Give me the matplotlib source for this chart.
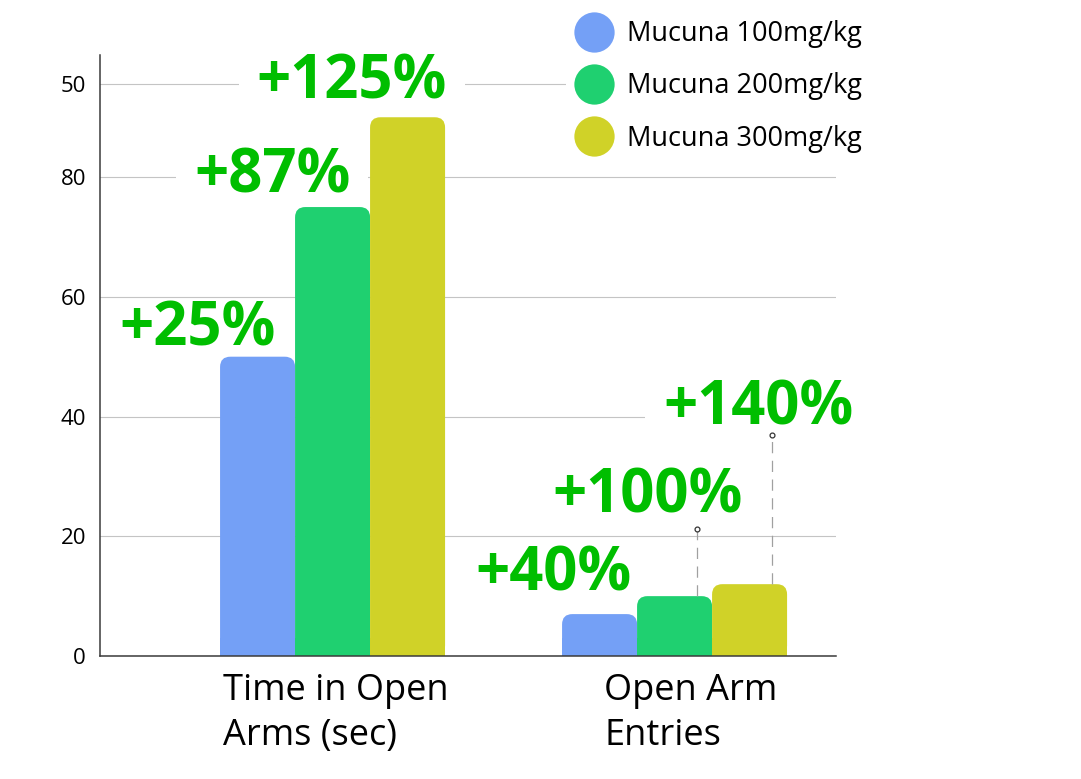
import matplotlib
matplotlib.use("Agg")
import matplotlib.pyplot as plt
from matplotlib.lines import Line2D
from matplotlib.patches import FancyBboxPatch, Rectangle

plt.rcParams["font.family"] = ["Open Sans", "DejaVu Sans"]

# data
categories = ["Time in Open\nArms (sec)", "Open Arm\nEntries"]
series = ["Mucuna 100mg/kg", "Mucuna 200mg/kg", "Mucuna 300mg/kg"]
time_open = [50, 75, 90]
entries = [7, 10, 12]
pct_labels = [["+25%", "+87%", "+125%"], ["+40%", "+100%", "+140%"]]
tick_values = [0, 20, 40, 60, 80, 95.5]
tick_labels = ["0", "20", "40", "60", "80", "50"]
# connector tops (open arm entries, 200 and 300 mg/kg)
connector_tops = [21.2, 36.9]

# layout
colors = ["#74a0f6", "#1fd070", "#d0d228"]
label_green = "#00be00"
bar_w = 0.2193
label_pos = [
    [(-0.624, 51.9), (-0.405, 77.5), (-0.222, 93.2)],
    [(0.417, 11.0), (0.642, 24.05), (0.966, 38.6)],
]
cat_left = [-0.320, 0.794]

fig = plt.figure(figsize=(10.81, 7.79), dpi=100)
ax = fig.add_axes([100 / 1081, 1 - 656 / 779, 736 / 1081, 601 / 779])
ax.set_xlim(-0.680, 1.472)
ax.set_ylim(0, 100.4)

ax.set_yticks(tick_values)
ax.set_yticklabels(tick_labels)
ax.tick_params(axis="y", length=0, pad=10, labelsize=16)
ax.set_xticks([])
ax.grid(axis="y", color="#c4c4c4", linewidth=0.8)
ax.set_axisbelow(True)
for side in ("top", "right"):
    ax.spines[side].set_visible(False)
for side in ("left", "bottom"):
    ax.spines[side].set_color("#3a3a3a")
    ax.spines[side].set_linewidth(1.1)

# rounded top bars
aspect = (1 / 5.9875) / (1 / 342)
radius = 0.03
groups = [time_open, entries]
for gi, values in enumerate(groups):
    for si, val in enumerate(values):
        x0 = gi + (si - 1) * bar_w - bar_w / 2
        box = FancyBboxPatch(
            (x0, 0), bar_w, val,
            boxstyle=f"round,pad=0,rounding_size={radius}",
            mutation_aspect=aspect, facecolor=colors[si], edgecolor="none",
            zorder=2,
        )
        ax.add_patch(box)
        ax.add_patch(Rectangle((x0, 0), bar_w, min(val, 3), facecolor=colors[si],
                               edgecolor="none", zorder=2))

# dashed connectors on the entries group
for si, top in zip([1, 2], connector_tops):
    cx = 1 + (si - 1) * bar_w + 0.065
    ax.plot([cx, cx], [entries[si], top], color="#a0a0a0", linewidth=0.9,
            dashes=(9, 6), zorder=2.5)
    ax.plot([cx], [top], marker="o", markersize=3.5, markerfacecolor="white",
            markeredgecolor="#333333", markeredgewidth=0.9, zorder=2.6)

# percentage labels
texts = []
for gi in range(2):
    for si in range(3):
        x, y = label_pos[gi][si]
        t = ax.text(x, y, pct_labels[gi][si], ha="left", va="baseline",
                    fontsize=43, fontweight="bold", color=label_green, zorder=3)
        texts.append(t)

# category labels under the axis
for gi, cat in enumerate(categories):
    ax.annotate(cat, xy=(cat_left[gi], 0), xycoords="data", xytext=(0, -12),
                textcoords="offset points", ha="left", va="top", fontsize=26,
                linespacing=1.36, annotation_clip=False)

handles = [Line2D([], [], linestyle="none", marker="o", markersize=29,
                  markerfacecolor=c, markeredgecolor="none") for c in colors]
leg = fig.legend(handles, series, loc="upper left",
                 bbox_to_anchor=(566 / 1081, 1 - 12 / 779), fontsize=19.5,
                 frameon=True, facecolor="white", edgecolor="none", framealpha=1,
                 handlelength=1.5, handletextpad=0.45, labelspacing=0.9,
                 borderpad=0.3, borderaxespad=0, fancybox=False)

# white boxes behind the big labels so the grid breaks around them
fig.canvas.draw()
inv = ax.transData.inverted()
pad = 18
for t in texts:
    bb = t.get_window_extent()
    (x0, y0), (x1, y1) = inv.transform([(bb.x0 - pad, bb.y0 + 4), (bb.x1 + pad, bb.y1 - 4)])
    ax.add_patch(Rectangle((x0, y0), x1 - x0, y1 - y0, facecolor="white",
                           edgecolor="none", zorder=1))

fig.savefig("out.png", dpi=100)
